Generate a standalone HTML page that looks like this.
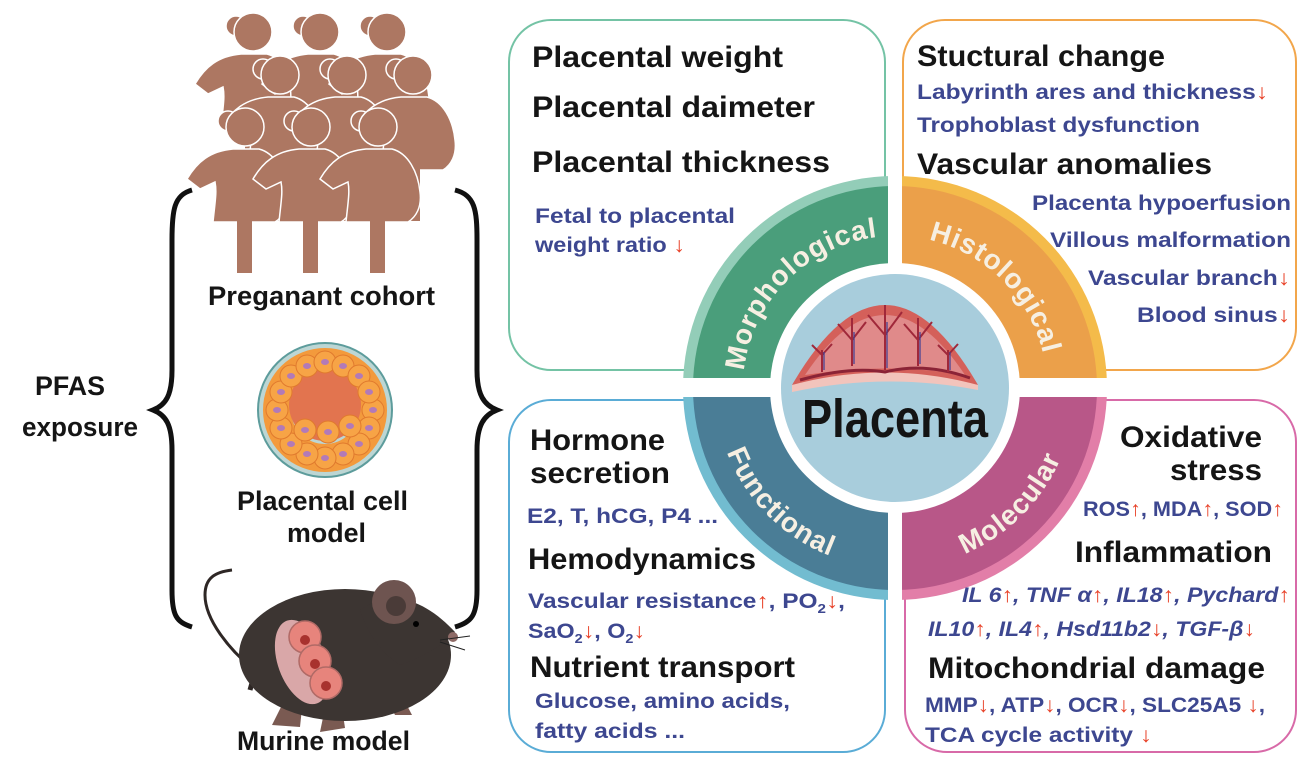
<!DOCTYPE html>
<html><head><meta charset="utf-8"><style>
html,body{margin:0;padding:0;background:#fff;}
svg{display:block;}
text{font-family:"Liberation Sans",Arial,sans-serif;font-weight:bold;}
.h{font-size:30px;fill:#151515;}
.b{font-size:21px;fill:#3d4790;}
.r{fill:#e8432a;}
.q{font-size:28px;fill:#f6efe2;letter-spacing:1px;}
</style></head><body>
<svg width="1316" height="773" viewBox="0 0 1316 773" xmlns="http://www.w3.org/2000/svg">
<defs>
<g id="wom">
<path d="M-12,22 L14,22 C30,26 40,45 42,65 C44,80 38,90 30,95 L-32,95 C-30,75 -28,65 -30,55 L-45,62 L-58,52 C-48,35 -35,24 -12,22 Z" fill="#ad7762" stroke="#fff" stroke-width="1.5"/>
<rect x="-8" y="94" width="15" height="52" fill="#ad7762"/>
<circle cx="-17" cy="-6" r="10" fill="#ad7762" stroke="#fff" stroke-width="1.5"/>
<circle cx="0" cy="0" r="19" fill="#ad7762" stroke="#fff" stroke-width="1.5"/>
</g>
</defs>

<use href="#wom" x="253" y="32"/><use href="#wom" x="320" y="32"/><use href="#wom" x="387" y="32"/>
<use href="#wom" x="280" y="75"/><use href="#wom" x="347" y="75"/><use href="#wom" x="413" y="75"/>
<use href="#wom" x="245" y="127"/><use href="#wom" x="311" y="127"/><use href="#wom" x="378" y="127"/>

<path d="M192,190 C174,195 172,210 172,240 L172,370 C172,395 166,405 153,410 C166,415 172,425 172,450 L172,590 C172,615 176,622 192,627" fill="none" stroke="#111" stroke-width="5"/>
<path d="M455,190 C475,195 477,210 477,240 L477,370 C477,395 484,405 497,410 C484,415 477,425 477,450 L477,590 C477,615 472,622 455,627" fill="none" stroke="#111" stroke-width="5"/>

<circle cx="325" cy="410" r="67" fill="#bcd6d4" stroke="#5d9c9c" stroke-width="2"/>
<circle cx="325" cy="410" r="48" fill="none" stroke="#f39a3c" stroke-width="28"/>
<circle cx="325" cy="405" r="36" fill="#e2744f"/>
<g fill="#f7a446" stroke="#e07a2e" stroke-width="1">
<circle cx="373" cy="410" r="11"/><circle cx="369" cy="428" r="11"/><circle cx="359" cy="444" r="11"/><circle cx="343" cy="454" r="11"/><circle cx="325" cy="458" r="11"/><circle cx="307" cy="454" r="11"/><circle cx="291" cy="444" r="11"/><circle cx="281" cy="428" r="11"/><circle cx="277" cy="410" r="11"/><circle cx="281" cy="392" r="11"/><circle cx="291" cy="376" r="11"/><circle cx="307" cy="366" r="11"/><circle cx="325" cy="362" r="11"/><circle cx="343" cy="366" r="11"/><circle cx="359" cy="376" r="11"/><circle cx="369" cy="392" r="11"/>
<circle cx="305" cy="430" r="11"/><circle cx="328" cy="432" r="11"/><circle cx="350" cy="426" r="11"/>
</g>
<g fill="#b27ab8">
<ellipse cx="373" cy="410" rx="4" ry="3"/><ellipse cx="369" cy="428" rx="4" ry="3"/><ellipse cx="359" cy="444" rx="4" ry="3"/><ellipse cx="343" cy="454" rx="4" ry="3"/><ellipse cx="325" cy="458" rx="4" ry="3"/><ellipse cx="307" cy="454" rx="4" ry="3"/><ellipse cx="291" cy="444" rx="4" ry="3"/><ellipse cx="281" cy="428" rx="4" ry="3"/><ellipse cx="277" cy="410" rx="4" ry="3"/><ellipse cx="281" cy="392" rx="4" ry="3"/><ellipse cx="291" cy="376" rx="4" ry="3"/><ellipse cx="307" cy="366" rx="4" ry="3"/><ellipse cx="325" cy="362" rx="4" ry="3"/><ellipse cx="343" cy="366" rx="4" ry="3"/><ellipse cx="359" cy="376" rx="4" ry="3"/><ellipse cx="369" cy="392" rx="4" ry="3"/>
<ellipse cx="305" cy="430" rx="4" ry="3"/><ellipse cx="328" cy="432" rx="4" ry="3"/><ellipse cx="350" cy="426" rx="4" ry="3"/>
</g>

<path d="M252,668 C230,650 205,620 205,595 C205,578 215,572 232,570" fill="none" stroke="#2e2725" stroke-width="3"/>
<path d="M250,690 C255,670 262,665 270,660" fill="none" stroke="#2e2725" stroke-width="5"/>
<g fill="#7a5a52">
<path d="M282,705 L272,725 L300,727 L302,708 Z"/><path d="M325,708 L320,732 L345,728 L342,708 Z"/><path d="M385,695 L395,715 L412,715 L400,692 Z"/>
</g>
<ellipse cx="345" cy="655" rx="106" ry="66" fill="#3c3532"/>
<path d="M360,610 C395,585 430,605 455,632 C445,645 420,658 400,665 C385,655 370,640 360,610 Z" fill="#3c3532"/>
<circle cx="394" cy="602" r="22" fill="#6e5450"/>
<circle cx="396" cy="606" r="10" fill="#4a3b38"/>
<circle cx="416" cy="624" r="3" fill="#000"/>
<circle cx="453" cy="637" r="5" fill="#8e6a66"/>
<path d="M440,640 L470,636 M440,642 L465,650" stroke="#222" stroke-width="1"/>
<ellipse cx="302" cy="662" rx="24" ry="44" fill="#d9a7a8" transform="rotate(-20 302 662)"/>
<g fill="#e7847c" stroke="#b06a66" stroke-width="1.5">
<circle cx="305" cy="637" r="16"/><circle cx="315" cy="661" r="16"/><circle cx="326" cy="683" r="16"/>
</g>
<g fill="#a8322e"><circle cx="305" cy="640" r="5"/><circle cx="315" cy="664" r="5"/><circle cx="326" cy="686" r="5"/></g>

<text x="35" y="395" style="font-size:27px" textLength="70" lengthAdjust="spacingAndGlyphs" fill="#151515">PFAS</text>
<text x="22" y="436" style="font-size:27px" textLength="116" lengthAdjust="spacingAndGlyphs" fill="#151515">exposure</text>
<text x="208" y="305" style="font-size:27px" textLength="227" lengthAdjust="spacingAndGlyphs" fill="#151515">Preganant cohort</text>
<text x="237" y="510" style="font-size:27px" textLength="171" lengthAdjust="spacingAndGlyphs" fill="#151515">Placental cell</text>
<text x="287" y="542" style="font-size:27px" textLength="79" lengthAdjust="spacingAndGlyphs" fill="#151515">model</text>
<text x="237" y="750" style="font-size:27px" textLength="173" lengthAdjust="spacingAndGlyphs" fill="#151515">Murine model</text>

<rect x="509" y="20" width="376" height="350" rx="42" fill="none" stroke="#74c3a5" stroke-width="2"/>
<rect x="903" y="20" width="393" height="350" rx="42" fill="none" stroke="#f2a64b" stroke-width="2"/>
<rect x="509" y="400" width="376" height="352" rx="42" fill="none" stroke="#5aacd6" stroke-width="2"/>
<rect x="905" y="400" width="391" height="352" rx="42" fill="none" stroke="#d86aa8" stroke-width="2"/>

<path d="M895,388 L683,388 A212,212 0 0 1 895,176 Z" fill="#93cdb8"/>
<path d="M895,388 L895,176 A212,212 0 0 1 1107,388 Z" fill="#f4bb4a"/>
<path d="M895,388 L683,388 A212,212 0 0 0 895,600 Z" fill="#72bcd0"/>
<path d="M895,388 L1107,388 A212,212 0 0 1 895,600 Z" fill="#e27ea8"/>
<path d="M895,388 L693,388 A202,202 0 0 1 895,186 Z" fill="#4a9e7b"/>
<path d="M895,388 L895,186 A202,202 0 0 1 1097,388 Z" fill="#eba04a"/>
<path d="M895,388 L693,388 A202,202 0 0 0 895,590 Z" fill="#4a7d96"/>
<path d="M895,388 L1097,388 A202,202 0 0 1 895,590 Z" fill="#b85788"/>
<rect x="888" y="170" width="14" height="440" fill="#fff"/>
<rect x="676" y="378" width="440" height="19" fill="#fff"/>
<circle cx="895" cy="388" r="125" fill="#fff"/>
<circle cx="895" cy="388" r="114" fill="#a8cddc"/>

<path id="pm" d="M743,388 A152,152 0 0 1 895,236" fill="none"/>
<path id="ph" d="M895,236 A152,152 0 0 1 1047,388" fill="none"/>
<path id="pf" d="M715,388 A180,180 0 0 0 895,568" fill="none"/>
<path id="pmo" d="M895,568 A180,180 0 0 0 1075,388" fill="none"/>
<text class="q"><textPath href="#pm" startOffset="50%" text-anchor="middle">Morphological</textPath></text>
<text class="q"><textPath href="#ph" startOffset="50%" text-anchor="middle">Histological</textPath></text>
<text class="q"><textPath href="#pf" startOffset="50%" text-anchor="middle">Functional</textPath></text>
<text class="q"><textPath href="#pmo" startOffset="50%" text-anchor="middle">Molecular</textPath></text>

<path d="M792,385 Q885,225 978,385 Q885,370 792,385 Z" fill="#d4605a"/>
<path d="M805,375 Q885,255 965,375 Q885,362 805,375 Z" fill="#e08a8a"/>
<path d="M792,385 Q885,360 978,385 L978,390 Q885,372 792,392 Z" fill="#f2c4bc"/>
<path d="M800,380 Q850,366 885,372 Q925,362 970,378" fill="none" stroke="#8b2336" stroke-width="3"/>
<g stroke="#a0283a" stroke-width="2" fill="none">
<path d="M822,372 L822,350 M822,355 L812,345 M822,355 L832,344"/>
<path d="M852,366 L852,330 M852,340 L838,324 M852,340 L866,322 M852,330 L852,318"/>
<path d="M885,370 L885,320 M885,335 L868,315 M885,335 L902,312 M885,322 L885,305"/>
<path d="M918,366 L918,330 M918,340 L904,324 M918,340 L932,322 M918,330 L918,318"/>
<path d="M948,372 L948,350 M948,355 L938,345 M948,355 L958,344"/>
</g>
<g stroke="#3c3f95" stroke-width="1.2" fill="none">
<path d="M824,370 L824,352 M854,364 L854,332 M887,368 L887,322 M920,364 L920,332 M950,370 L950,352"/>
</g>
<text x="895" y="437" text-anchor="middle" style="font-size:54px" textLength="186" lengthAdjust="spacingAndGlyphs" fill="#141414">Placenta</text>

<text class="h" x="532" y="67" textLength="251" lengthAdjust="spacingAndGlyphs">Placental weight</text>
<text class="h" x="532" y="117" textLength="283" lengthAdjust="spacingAndGlyphs">Placental daimeter</text>
<text class="h" x="532" y="172" textLength="298" lengthAdjust="spacingAndGlyphs">Placental thickness</text>
<text class="b" x="535" y="223" textLength="200" lengthAdjust="spacingAndGlyphs">Fetal to placental</text>
<text class="b" x="535" y="252" textLength="150" lengthAdjust="spacingAndGlyphs">weight ratio <tspan class="r">↓</tspan></text>

<text class="h" x="917" y="66" textLength="248" lengthAdjust="spacingAndGlyphs">Stuctural change</text>
<text class="b" x="917" y="99" textLength="351" lengthAdjust="spacingAndGlyphs">Labyrinth ares and thickness<tspan class="r">↓</tspan></text>
<text class="b" x="917" y="132" textLength="283" lengthAdjust="spacingAndGlyphs">Trophoblast dysfunction</text>
<text class="h" x="917" y="174" textLength="295" lengthAdjust="spacingAndGlyphs">Vascular anomalies</text>
<text class="b" x="1032" y="210" textLength="259" lengthAdjust="spacingAndGlyphs">Placenta hypoerfusion</text>
<text class="b" x="1050" y="247" textLength="241" lengthAdjust="spacingAndGlyphs">Villous malformation</text>
<text class="b" x="1088" y="285" textLength="202" lengthAdjust="spacingAndGlyphs">Vascular branch<tspan class="r">↓</tspan></text>
<text class="b" x="1137" y="322" textLength="153" lengthAdjust="spacingAndGlyphs">Blood sinus<tspan class="r">↓</tspan></text>

<text class="h" x="530" y="450" textLength="135" lengthAdjust="spacingAndGlyphs">Hormone</text>
<text class="h" x="530" y="483" textLength="140" lengthAdjust="spacingAndGlyphs">secretion</text>
<text class="b" x="527" y="523" textLength="191" lengthAdjust="spacingAndGlyphs">E2, T, hCG, P4 ...</text>
<text class="h" x="528" y="569" textLength="228" lengthAdjust="spacingAndGlyphs">Hemodynamics</text>
<text class="b" x="528" y="608" textLength="317" lengthAdjust="spacingAndGlyphs">Vascular resistance<tspan class="r">↑</tspan>, PO<tspan font-size="13" dy="5">2</tspan><tspan class="r" dy="-5">↓</tspan>,</text>
<text class="b" x="528" y="638" textLength="117" lengthAdjust="spacingAndGlyphs">SaO<tspan font-size="13" dy="5">2</tspan><tspan class="r" dy="-5">↓</tspan>, O<tspan font-size="13" dy="5">2</tspan><tspan class="r" dy="-5">↓</tspan></text>
<text class="h" x="530" y="677" textLength="265" lengthAdjust="spacingAndGlyphs">Nutrient transport</text>
<text class="b" x="535" y="708" textLength="255" lengthAdjust="spacingAndGlyphs">Glucose, amino acids,</text>
<text class="b" x="535" y="738" textLength="150" lengthAdjust="spacingAndGlyphs">fatty acids ...</text>

<text class="h" x="1120" y="447" textLength="142" lengthAdjust="spacingAndGlyphs">Oxidative</text>
<text class="h" x="1170" y="480" textLength="92" lengthAdjust="spacingAndGlyphs">stress</text>
<text class="b" x="1083" y="516" textLength="200" lengthAdjust="spacingAndGlyphs">ROS<tspan class="r">↑</tspan>, MDA<tspan class="r">↑</tspan>, SOD<tspan class="r">↑</tspan></text>
<text class="h" x="1075" y="562" textLength="197" lengthAdjust="spacingAndGlyphs">Inflammation</text>
<text class="b" x="962" y="602" font-style="italic" textLength="328" lengthAdjust="spacingAndGlyphs">IL 6<tspan class="r">↑</tspan>, TNF α<tspan class="r">↑</tspan>, IL18<tspan class="r">↑</tspan>, Pychard<tspan class="r">↑</tspan></text>
<text class="b" x="928" y="636" font-style="italic" textLength="327" lengthAdjust="spacingAndGlyphs">IL10<tspan class="r">↑</tspan>, IL4<tspan class="r">↑</tspan>, Hsd11b2<tspan class="r">↓</tspan>, TGF-β<tspan class="r">↓</tspan></text>
<text class="h" x="928" y="678" textLength="337" lengthAdjust="spacingAndGlyphs">Mitochondrial damage</text>
<text class="b" x="925" y="712" textLength="340" lengthAdjust="spacingAndGlyphs">MMP<tspan class="r">↓</tspan>, ATP<tspan class="r">↓</tspan>, OCR<tspan class="r">↓</tspan>, SLC25A5 <tspan class="r">↓</tspan>,</text>
<text class="b" x="925" y="742" textLength="227" lengthAdjust="spacingAndGlyphs">TCA cycle activity <tspan class="r">↓</tspan></text>
</svg>
</body></html>
